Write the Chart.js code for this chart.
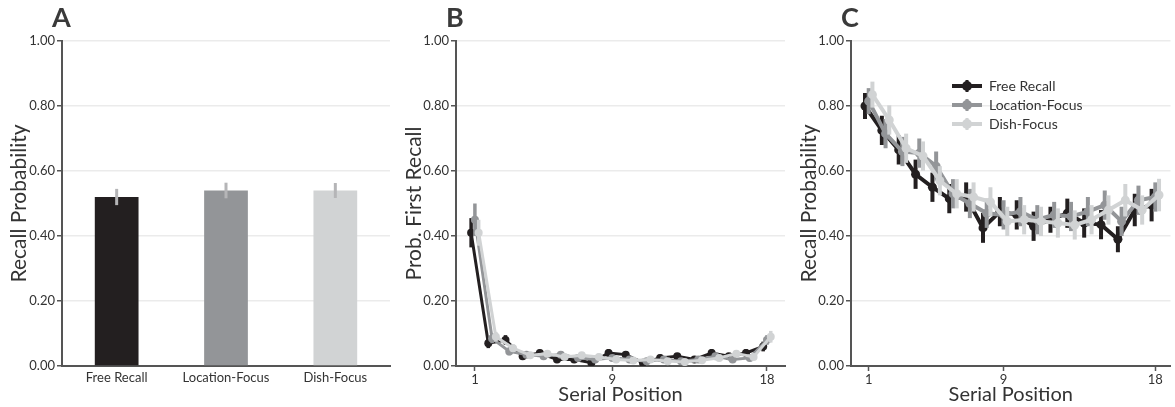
<!DOCTYPE html>
<html><head><meta charset="utf-8">
<script src="https://cdn.jsdelivr.net/npm/chart.js@4.4.1/dist/chart.umd.min.js"></script>
<style>
html,body{margin:0;padding:0;background:#fff;width:1175px;height:407px;overflow:hidden}
.p{position:absolute;top:0;height:407px}
</style></head><body>
<div class="p" style="left:0;width:395px"><canvas id="cA" width="395" height="407"></canvas></div>
<div class="p" style="left:395px;width:395px"><canvas id="cB" width="395" height="407"></canvas></div>
<div class="p" style="left:790px;width:385px"><canvas id="cC" width="385" height="407"></canvas></div>
<script>
// ---------- data ----------
const conditions = ['Free Recall', 'Location-Focus', 'Dish-Focus'];
const conditionColors = ['#231f20', '#939598', '#d1d3d4'];
const yTickValues = [0, 0.2, 0.4, 0.6, 0.8, 1.0];
const xTickValues = [1, 9, 18];
const serialPositions = [1,2,3,4,5,6,7,8,9,10,11,12,13,14,15,16,17,18];

// Panel A: overall recall probability
const recallMeans = [0.52, 0.54, 0.54];
const recallErrors = [0.025, 0.024, 0.023];

// Panel B: probability of first recall
const pfrFree = [0.41, 0.07, 0.08, 0.03, 0.04, 0.02, 0.02, 0.01, 0.04, 0.035, 0.01, 0.025, 0.03, 0.02, 0.04, 0.03, 0.04, 0.06];
const pfrLocation = [0.45, 0.085, 0.045, 0.035, 0.03, 0.035, 0.025, 0.02, 0.025, 0.02, 0.015, 0.02, 0.015, 0.02, 0.03, 0.02, 0.025, 0.08];
const pfrDish = [0.41, 0.09, 0.055, 0.033, 0.038, 0.028, 0.033, 0.028, 0.02, 0.017, 0.02, 0.015, 0.012, 0.018, 0.025, 0.038, 0.028, 0.09];
const pfrFreeErr = [0.045, 0.015, 0.015, 0.01, 0.01, 0.01, 0.01, 0.008, 0.012, 0.01, 0.008, 0.01, 0.01, 0.008, 0.012, 0.01, 0.012, 0.015];
const pfrLocationErr = [0.05, 0.015, 0.012, 0.01, 0.01, 0.01, 0.008, 0.008, 0.008, 0.008, 0.008, 0.008, 0.008, 0.008, 0.01, 0.008, 0.01, 0.015];
const pfrDishErr = [0.04, 0.015, 0.012, 0.01, 0.01, 0.01, 0.01, 0.01, 0.008, 0.008, 0.008, 0.008, 0.008, 0.008, 0.01, 0.01, 0.01, 0.018];

// Panel C: serial position curve
const spcFree = [0.80, 0.725, 0.665, 0.59, 0.55, 0.515, 0.52, 0.425, 0.475, 0.465, 0.43, 0.45, 0.47, 0.44, 0.435, 0.39, 0.48, 0.495];
const spcLocation = [0.815, 0.715, 0.66, 0.655, 0.615, 0.53, 0.50, 0.47, 0.465, 0.475, 0.45, 0.465, 0.46, 0.475, 0.495, 0.445, 0.51, 0.52];
const spcDish = [0.835, 0.757, 0.67, 0.646, 0.57, 0.53, 0.52, 0.505, 0.445, 0.45, 0.445, 0.44, 0.434, 0.45, 0.48, 0.51, 0.48, 0.526];
const spcFreeErr = [0.04, 0.045, 0.045, 0.045, 0.045, 0.045, 0.045, 0.046, 0.045, 0.045, 0.045, 0.04, 0.045, 0.045, 0.045, 0.04, 0.05, 0.05];
const spcLocationErr = [0.04, 0.045, 0.045, 0.045, 0.045, 0.045, 0.045, 0.045, 0.045, 0.045, 0.045, 0.04, 0.045, 0.045, 0.045, 0.045, 0.045, 0.045];
const spcDishErr = [0.04, 0.045, 0.045, 0.045, 0.045, 0.045, 0.045, 0.045, 0.045, 0.045, 0.045, 0.045, 0.045, 0.045, 0.045, 0.05, 0.045, 0.05];

// ---------- styling ----------
const FONT = 'Lato, "Open Sans", sans-serif';
const TEXT = '#333333';
const AXIS = '#555555';
const GRID = '#ebebeb';
const DODGE = [-0.22, 0, 0.22];
const DRAW_ORDER = [2, 1, 0]; // later conditions drawn on top

// ---------- plugins ----------
const errorBarPlugin = {
  id: 'errorBars',
  beforeDatasetDraw(chart, args) {
    const ds = chart.data.datasets[args.index];
    if (!ds.errors || chart.config.type === 'bar') return;
    drawErr(chart, args.meta, ds);
  },
  afterDatasetDraw(chart, args) {
    const ds = chart.data.datasets[args.index];
    if (!ds.errors || chart.config.type !== 'bar') return;
    drawErr(chart, args.meta, ds);
  }
};
function drawErr(chart, meta, ds) {
  const ctx = chart.ctx;
  const ys = chart.scales.y;
  ctx.save();
  ctx.strokeStyle = ds.errorColor || ds.borderColor;
  ctx.lineWidth = ds.errorWidth || 3;
  ctx.lineCap = 'butt';
  meta.data.forEach((el, i) => {
    const raw = ds.data[i];
    const v = typeof raw === 'object' ? raw.y : raw;
    const e = ds.errors[i];
    ctx.beginPath();
    ctx.moveTo(el.x, ys.getPixelForValue(v - e));
    ctx.lineTo(el.x, ys.getPixelForValue(v + e));
    ctx.stroke();
  });
  ctx.restore();
}
const panelLabelPlugin = {
  id: 'panelLabel',
  afterDraw(chart, args, opts) {
    const ctx = chart.ctx;
    ctx.save();
    ctx.font = 'bold 27px ' + FONT;
    ctx.fillStyle = '#3a3a3a';
    ctx.textBaseline = 'alphabetic';
    ctx.textAlign = 'left';
    ctx.fillText(opts.text, chart.chartArea.left - 10, 27);
    ctx.restore();
  }
};
const legendShiftPlugin = {
  id: 'legendShift',
  afterLayout(chart, args, opts) {
    if (!opts || !chart.legend || opts.dx === undefined) return;
    const lg = chart.legend;
    const w = lg.width, h = lg.height;
    lg.left = chart.chartArea.left + opts.dx;
    lg.top = chart.chartArea.top + opts.dy;
    lg.right = lg.left + w;
    lg.bottom = lg.top + h;
  }
};
Chart.register(errorBarPlugin, panelLabelPlugin, legendShiftPlugin);

function legendIcon(color) {
  const c = document.createElement('canvas');
  c.width = 30; c.height = 12;
  const g = c.getContext('2d');
  g.strokeStyle = color; g.lineWidth = 4;
  g.beginPath(); g.moveTo(0, 6); g.lineTo(30, 6); g.stroke();
  g.fillStyle = color;
  g.beginPath(); g.arc(15, 6, 5, 0, Math.PI * 2); g.fill();
  g.fillRect(13.5, 0, 3, 12);
  return c;
}

function yScale(title) {
  return {
    min: 0, max: 1,
    afterBuildTicks: s => { s.ticks = yTickValues.map(v => ({ value: v })); },
    ticks: { callback: v => Number(v).toFixed(2), font: { family: FONT, size: 13 }, color: TEXT, padding: 2 },
    grid: { color: GRID, lineWidth: 1.5, tickColor: AXIS, tickLength: 5, tickWidth: 1.5 },
    border: { color: AXIS, width: 2 },
    title: { display: true, text: title, font: { family: FONT, size: 21 }, color: TEXT, padding: { top: 7, bottom: 0 } },
    afterFit: s => { s.width = 61; }
  };
}
function xLinear(min, max) {
  return {
    type: 'linear', min: min, max: max,
    afterBuildTicks: s => { s.ticks = xTickValues.map(v => ({ value: v })); },
    ticks: { callback: v => String(v), font: { family: FONT, size: 13 }, color: TEXT, padding: 1, maxRotation: 0, autoSkip: false },
    grid: { drawOnChartArea: false, drawTicks: true, tickLength: 5, tickColor: AXIS, tickWidth: 1.5 },
    border: { color: AXIS, width: 2 },
    title: { display: true, text: 'Serial Position', font: { family: FONT, size: 20 }, color: TEXT, padding: { top: 0, bottom: 0 } },
    afterFit: s => { s.height = 41; }
  };
}
function lineDatasets(series, errs, lw, pr, ew) {
  return series.map((vals, k) => ({
    label: conditions[k],
    data: vals.map((v, i) => ({ x: serialPositions[i] + DODGE[k], y: v })),
    errors: errs[k],
    order: DRAW_ORDER[k],
    borderColor: conditionColors[k],
    backgroundColor: conditionColors[k],
    borderWidth: lw,
    pointRadius: pr,
    pointBorderWidth: 0,
    pointHoverRadius: pr,
    errorWidth: ew,
    tension: 0
  }));
}

// ---------- Panel A ----------
new Chart(document.getElementById('cA'), {
  type: 'bar',
  data: {
    labels: conditions,
    datasets: [{
      data: recallMeans,
      errors: recallErrors,
      errorColor: '#b5b5b7',
      errorWidth: 3,
      backgroundColor: conditionColors,
      borderWidth: 0,
      categoryPercentage: 1,
      barPercentage: 0.4
    }]
  },
  options: {
    responsive: false, animation: false,
    layout: { padding: { top: 41, right: 5, left: 0, bottom: 0 } },
    plugins: { legend: { display: false }, tooltip: { enabled: false }, panelLabel: { text: 'A' } },
    scales: {
      x: {
        ticks: { font: { family: FONT, size: 13 }, color: TEXT, padding: 4 },
        grid: { drawOnChartArea: false, drawTicks: false },
        border: { color: AXIS, width: 2 },
        afterFit: s => { s.height = 41; }
      },
      y: Object.assign(yScale('Recall Probability'), { afterFit: s => { s.width = 62; } })
    }
  }
});

// ---------- Panel B ----------
new Chart(document.getElementById('cB'), {
  type: 'line',
  data: { datasets: lineDatasets([pfrFree, pfrLocation, pfrDish], [pfrFreeErr, pfrLocationErr, pfrDishErr], 3, 4, 3.5) },
  options: {
    responsive: false, animation: false,
    layout: { padding: { top: 41, right: 5, left: 0, bottom: 0 } },
    plugins: { legend: { display: false }, tooltip: { enabled: false }, panelLabel: { text: 'B' } },
    scales: { x: xLinear(-0.1, 19.05), y: yScale('Prob. First Recall') }
  }
});

// ---------- Panel C ----------
new Chart(document.getElementById('cC'), {
  type: 'line',
  data: { datasets: lineDatasets([spcFree, spcLocation, spcDish], [spcFreeErr, spcLocationErr, spcDishErr], 4, 4.5, 4) },
  options: {
    responsive: false, animation: false,
    layout: { padding: { top: 41, right: 0, left: 0, bottom: 0 } },
    plugins: {
      tooltip: { enabled: false },
      panelLabel: { text: 'C' },
      legendShift: { dx: 96, dy: 33 },
      legend: {
        display: true, position: 'chartArea', align: 'start',
        labels: {
          usePointStyle: true, pointStyleWidth: 30, padding: 5,
          font: { family: FONT, size: 14 }, color: TEXT,
          generateLabels: chart => chart.data.datasets.map((ds, i) => ({
            text: ds.label, pointStyle: legendIcon(ds.borderColor), fillStyle: ds.borderColor,
            strokeStyle: ds.borderColor, lineWidth: 0, datasetIndex: i, hidden: false, fontColor: TEXT
          }))
        }
      }
    },
    scales: { x: xLinear(-0.05, 18.9), y: yScale('Recall Probability') }
  }
});
</script>
</body></html>
